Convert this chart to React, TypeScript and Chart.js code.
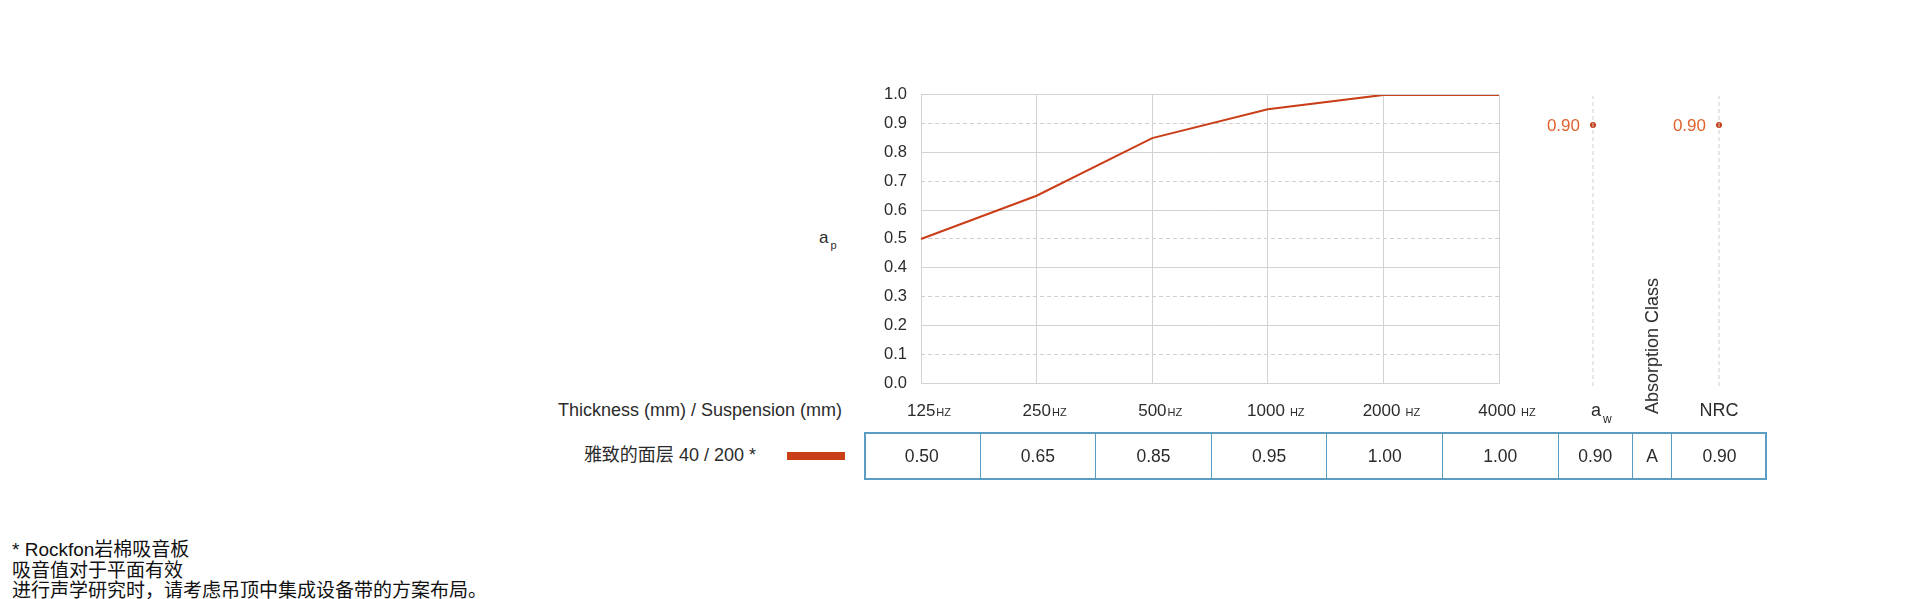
import React, { useEffect, useRef } from 'react';
import { Chart, registerables } from 'chart.js';

Chart.register(...registerables);

// ---- data ----
const frequencies = ['125', '250', '500', '1000', '2000', '4000'];
const absorption = [0.5, 0.65, 0.85, 0.95, 1.0, 1.0];
const alphaW = 0.9;
const absorptionClass = 'A';
const nrc = 0.9;
const productName = '雅致的面层';
const thicknessMm = 40;
const suspensionMm = 200;
const footnotes = [
  '* Rockfon岩棉吸音板',
  '吸音值对于平面有效',
  '进行声学研究时，请考虑吊顶中集成设备带的方案布局。',
];

// ---- styles ----
const FONT = '"Liberation Sans", Arial, "Noto Sans CJK SC", sans-serif';
const LINE_COLOR = '#c93d17';
const LABEL_COLOR = '#e0622d';
const GRID = '#d3d3d3';
const TEXT = '#2b2b2b';
const TABLE_BORDER = '#5b9cc2';

function MainChart() {
  const ref = useRef<HTMLCanvasElement>(null);
  useEffect(() => {
    const hzPlugin = {
      id: 'hzLabels',
      afterDraw(chart: any) {
        const { ctx, chartArea } = chart;
        const xs = chart.scales.x;
        ctx.save();
        ctx.fillStyle = TEXT;
        ctx.textBaseline = 'alphabetic';
        ctx.textAlign = 'left';
        frequencies.forEach((f, i) => {
          const x = xs.getPixelForValue(i) + 8;
          const y = chartArea.bottom + 33;
          ctx.font = `17px ${FONT}`;
          const w1 = ctx.measureText(f).width;
          const gap = f.length > 3 ? 5 : 1;
          ctx.font = `11px ${FONT}`;
          const w2 = ctx.measureText('HZ').width;
          const start = x - (w1 + gap + w2) / 2;
          ctx.font = `17px ${FONT}`;
          ctx.fillText(f, start, y);
          ctx.font = `11px ${FONT}`;
          ctx.fillText('HZ', start + w1 + gap, y);
        });
        ctx.restore();
      },
    };
    const chart = new Chart(ref.current as HTMLCanvasElement, {
      type: 'line',
      data: {
        labels: frequencies,
        datasets: [
          {
            data: absorption,
            borderColor: LINE_COLOR,
            borderWidth: 2,
            pointRadius: 0,
            tension: 0,
            fill: false,
          },
        ],
      },
      options: {
        responsive: false,
        animation: false,
        devicePixelRatio: 1,
        events: [],
        layout: { padding: { top: 0, right: 61, left: 0, bottom: 0 } },
        plugins: { legend: { display: false }, tooltip: { enabled: false } },
        scales: {
          x: {
            type: 'category',
            offset: false,
            grid: { color: GRID, lineWidth: 1, drawTicks: false },
            border: { display: true, color: GRID },
            ticks: { display: false },
            afterFit: (s: any) => {
              s.height = 48;
            },
          },
          y: {
            min: 0,
            max: 1,
            ticks: {
              stepSize: 0.1,
              padding: 14,
              color: TEXT,
              font: { family: FONT, size: 16.5 },
              callback: (v: any) => Number(v).toFixed(1),
            },
            grid: {
              drawTicks: false,
              color: (c: any) =>
                Math.round((c.tick?.value ?? 0) * 10) % 2 === 0 ? GRID : 'rgba(0,0,0,0)',
            },
            border: { display: true, color: GRID },
            afterFit: (s: any) => {
              s.width = 61;
            },
          },
          y2: {
            position: 'right',
            min: 0,
            max: 1,
            ticks: { display: false, stepSize: 0.1 },
            grid: {
              drawTicks: false,
              color: (c: any) =>
                Math.round((c.tick?.value ?? 0) * 10) % 2 === 1 ? '#cfcfcf' : 'rgba(0,0,0,0)',
            },
            border: { display: false, dash: [4, 3] },
            afterFit: (s: any) => {
              s.width = 0;
            },
          },
        },
      } as any,
      plugins: [hzPlugin],
    });
    return () => chart.destroy();
  }, []);
  return (
    <canvas
      ref={ref}
      width={700}
      height={360}
      style={{ position: 'absolute', left: 860, top: 71, width: 700, height: 360 }}
    />
  );
}

function RatingChart({ value, left }: { value: number; left: number }) {
  const ref = useRef<HTMLCanvasElement>(null);
  useEffect(() => {
    const labelPlugin = {
      id: 'ratingLabel',
      afterDatasetsDraw(chart: any) {
        const { ctx } = chart;
        const pt = chart.getDatasetMeta(1).data[0];
        ctx.save();
        ctx.fillStyle = LABEL_COLOR;
        ctx.font = `17px ${FONT}`;
        ctx.textAlign = 'right';
        ctx.textBaseline = 'middle';
        ctx.fillText(value.toFixed(2), pt.x - 13, pt.y + 1);
        ctx.restore();
      },
    };
    const chart = new Chart(ref.current as HTMLCanvasElement, {
      type: 'scatter',
      data: {
        datasets: [
          {
            data: [
              { x: 0, y: 0 },
              { x: 0, y: 1 },
            ],
            showLine: true,
            borderColor: '#cfcfcf',
            borderWidth: 1,
            borderDash: [4, 3],
            pointRadius: 0,
          },
          {
            data: [{ x: 0, y: value }],
            pointRadius: 3,
            pointBackgroundColor: LINE_COLOR,
            pointBorderWidth: 0,
          },
        ],
      },
      options: {
        responsive: false,
        animation: false,
        devicePixelRatio: 1,
        events: [],
        layout: { padding: { top: 16, bottom: 54, left: 0, right: 0 } },
        plugins: { legend: { display: false }, tooltip: { enabled: false } },
        scales: {
          x: { type: 'linear', min: -1, max: 1, display: false },
          y: { min: 0, max: 1, display: false },
        },
      } as any,
      plugins: [labelPlugin],
    });
    return () => chart.destroy();
  }, [value]);
  return (
    <canvas
      ref={ref}
      width={120}
      height={360}
      style={{ position: 'absolute', left: left - 60, top: 80, width: 120, height: 360 }}
    />
  );
}

const colWidths = [115.6, 115.6, 115.6, 115.6, 115.6, 115.6, 74.4, 39, 96];

export default function App() {
  const cells = [
    ...absorption.map((v) => v.toFixed(2)),
    alphaW.toFixed(2),
    absorptionClass,
    nrc.toFixed(2),
  ];
  let acc = 0;
  const lefts = colWidths.map((w) => {
    const l = acc;
    acc += w;
    return l;
  });
  return (
    <div
      style={{
        position: 'absolute',
        left: 0,
        top: 0,
        width: 1920,
        height: 599,
        overflow: 'hidden',
        background: '#fff',
        fontFamily: FONT,
        color: TEXT,
      }}
    >
      <MainChart />
      <RatingChart value={alphaW} left={1593} />
      <RatingChart value={nrc} left={1719} />

      {/* y axis title a_p */}
      <div style={{ position: 'absolute', left: 819, top: 228, fontSize: 17, lineHeight: '20px' }}>
        a<span style={{ fontSize: 11, position: 'relative', top: 6, marginLeft: 2 }}>p</span>
      </div>

      {/* header row */}
      <div
        style={{
          position: 'absolute',
          right: 1920 - 842,
          top: 399,
          fontSize: 18,
          lineHeight: '22px',
          whiteSpace: 'nowrap',
        }}
      >
        Thickness (mm) / Suspension (mm)
      </div>
      <div style={{ position: 'absolute', left: 1591, top: 399, fontSize: 18, lineHeight: '22px' }}>
        a<span style={{ fontSize: 12, position: 'relative', top: 7, marginLeft: 2 }}>w</span>
      </div>
      <div
        style={{
          position: 'absolute',
          left: 1719,
          top: 399,
          transform: 'translateX(-50%)',
          fontSize: 18,
          lineHeight: '22px',
        }}
      >
        NRC
      </div>
      <div
        style={{
          position: 'absolute',
          left: 1652,
          top: 346,
          transform: 'translate(-50%, -50%) rotate(-90deg)',
          fontSize: 18,
          lineHeight: '22px',
          whiteSpace: 'nowrap',
        }}
      >
        Absorption Class
      </div>

      {/* legend row */}
      <div
        style={{
          position: 'absolute',
          right: 1920 - 756,
          top: 444,
          fontSize: 18,
          lineHeight: '22px',
          whiteSpace: 'nowrap',
        }}
      >
        {productName} {thicknessMm} / {suspensionMm} *
      </div>
      <div
        style={{
          position: 'absolute',
          left: 787,
          top: 452,
          width: 58,
          height: 8,
          background: LINE_COLOR,
        }}
      />

      {/* table */}
      <div
        style={{
          position: 'absolute',
          left: 864,
          top: 432,
          width: 903,
          height: 48,
          border: `2px solid ${TABLE_BORDER}`,
          boxSizing: 'border-box',
        }}
      >
        {cells.map((c, i) => (
          <div
            key={i}
            style={{
              position: 'absolute',
              left: lefts[i] - 2,
              top: 0,
              width: colWidths[i],
              height: 44,
              boxSizing: 'border-box',
              borderLeft: i === 0 ? 'none' : `1px solid ${TABLE_BORDER}`,
              display: 'flex',
              alignItems: 'center',
              justifyContent: 'center',
              fontSize: 17.5,
            }}
          >
            {c}
          </div>
        ))}
      </div>

      {/* footnotes */}
      <div
        style={{
          position: 'absolute',
          left: 12,
          top: 540,
          fontSize: 19,
          lineHeight: '20.5px',
          color: '#111',
          whiteSpace: 'nowrap',
        }}
      >
        {footnotes.map((f, i) => (
          <div key={i}>{f}</div>
        ))}
      </div>
    </div>
  );
}
